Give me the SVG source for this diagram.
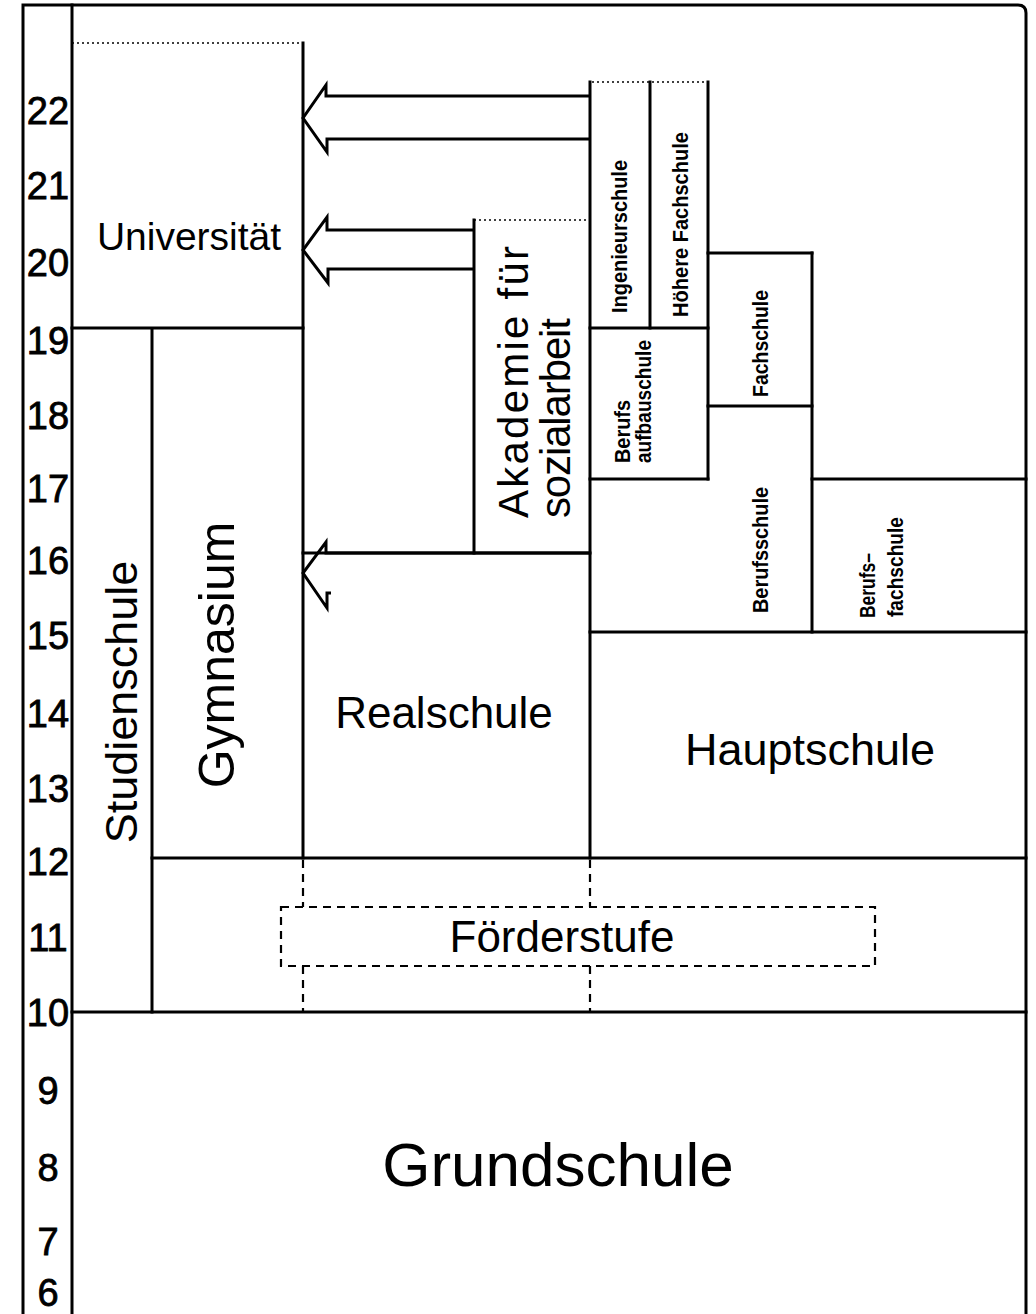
<svg xmlns="http://www.w3.org/2000/svg" width="1036" height="1314" viewBox="0 0 1036 1314">
<style>
.ln{stroke:#000;stroke-width:3;fill:none;stroke-linecap:square}
.dot{stroke:#000;stroke-width:1.6;fill:none;stroke-dasharray:2 3}
.dash{stroke:#000;stroke-width:2.2;fill:none;stroke-dasharray:8 6}
.arr{stroke:#000;stroke-width:3;fill:none;stroke-linejoin:miter}
.num{font-family:"Liberation Sans",Arial,sans-serif;font-size:38px;fill:#000;stroke:#000;stroke-width:0.8;text-anchor:middle}
.big{font-family:"Liberation Sans",Arial,sans-serif;fill:#000}
.sm{font-family:"Liberation Sans Narrow","Liberation Sans",Arial,sans-serif;font-weight:bold;font-size:22px;fill:#000}
</style>
<rect width="1036" height="1314" fill="#fff"/>
<g id="frame">
<path class="ln" d="M23,1314 V5 H1018 Q1026,5 1026,13 V1314"/>
<line class="ln" x1="72" y1="5" x2="72" y2="1314"/>
</g>
<g id="axis">
<text class="num" x="48" y="124">22</text>
<text class="num" x="48" y="199">21</text>
<text class="num" x="48" y="276">20</text>
<text class="num" x="48" y="354">19</text>
<text class="num" x="48" y="429">18</text>
<text class="num" x="48" y="502">17</text>
<text class="num" x="48" y="574">16</text>
<text class="num" x="48" y="649">15</text>
<text class="num" x="48" y="727">14</text>
<text class="num" x="48" y="802">13</text>
<text class="num" x="48" y="875">12</text>
<text class="num" x="48" y="951">11</text>
<text class="num" x="48" y="1026">10</text>
<text class="num" x="48" y="1104">9</text>
<text class="num" x="48" y="1181">8</text>
<text class="num" x="48" y="1255">7</text>
<text class="num" x="48" y="1306">6</text>
</g>
<g id="universitaet">
<line class="dot" x1="72" y1="43" x2="303" y2="43"/>
<line class="ln" x1="72" y1="328" x2="303" y2="328"/>
<text class="big" x="189" y="250" font-size="39" text-anchor="middle">Universität</text>
</g>
<g id="studienschule">
<line class="ln" x1="152" y1="330" x2="152" y2="1012"/>
<text class="big" transform="translate(137,702) rotate(-90)" font-size="45" text-anchor="middle">Studienschule</text>
</g>
<g id="gymnasium">
<line class="ln" x1="303" y1="43" x2="303" y2="858"/>
<text class="big" transform="translate(234,655) rotate(-90)" font-size="50" text-anchor="middle">Gymnasium</text>
</g>
<g id="realschule">
<line class="ln" x1="303" y1="553" x2="590" y2="553"/>
<text class="big" x="444" y="728" font-size="44" text-anchor="middle">Realschule</text>
</g>
<g id="akademie">
<line class="dot" x1="474" y1="220" x2="590" y2="220"/>
<line class="ln" x1="474" y1="220" x2="474" y2="553"/>
<text class="big" transform="translate(528,518) rotate(-90)" font-size="42" textLength="272">Akademie für</text>
<text class="big" transform="translate(570,518) rotate(-90)" font-size="42" textLength="200">sozialarbeit</text>
</g>
<g id="ingenieurschule">
<line class="dot" x1="592" y1="82" x2="708" y2="82"/>
<line class="ln" x1="590" y1="82" x2="590" y2="858"/>
<line class="ln" x1="650" y1="82" x2="650" y2="328"/>
<line class="ln" x1="590" y1="328" x2="708" y2="328"/>
<text class="sm" transform="translate(627,313) rotate(-90)" textLength="153" lengthAdjust="spacingAndGlyphs">Ingenieurschule</text>
</g>
<g id="hoehere-fachschule">
<line class="ln" x1="708" y1="82" x2="708" y2="479"/>
<text class="sm" transform="translate(688,317) rotate(-90)" textLength="185" lengthAdjust="spacingAndGlyphs">Höhere Fachschule</text>
</g>
<g id="fachschule">
<line class="ln" x1="708" y1="253" x2="812" y2="253"/>
<line class="ln" x1="812" y1="253" x2="812" y2="632"/>
<line class="ln" x1="708" y1="406" x2="812" y2="406"/>
<text class="sm" transform="translate(768,397) rotate(-90)" textLength="107" lengthAdjust="spacingAndGlyphs">Fachschule</text>
</g>
<g id="berufsaufbauschule">
<line class="ln" x1="590" y1="479" x2="708" y2="479"/>
<text class="sm" transform="translate(630,463) rotate(-90)" textLength="63" lengthAdjust="spacingAndGlyphs">Berufs</text>
<text class="sm" transform="translate(651,463) rotate(-90)" textLength="123" lengthAdjust="spacingAndGlyphs">aufbauschule</text>
</g>
<g id="berufsschule">
<line class="ln" x1="590" y1="632" x2="1026" y2="632"/>
<text class="sm" transform="translate(768,613) rotate(-90)" textLength="126" lengthAdjust="spacingAndGlyphs">Berufsschule</text>
</g>
<g id="berufsfachschule">
<line class="ln" x1="812" y1="479" x2="1026" y2="479"/>
<text class="sm" transform="translate(875,618) rotate(-90)" textLength="65" lengthAdjust="spacingAndGlyphs">Berufs–</text>
<text class="sm" transform="translate(903,617) rotate(-90)" textLength="100" lengthAdjust="spacingAndGlyphs">fachschule</text>
</g>
<g id="hauptschule">
<line class="ln" x1="152" y1="858" x2="1026" y2="858"/>
<text class="big" x="810" y="765" font-size="45" text-anchor="middle">Hauptschule</text>
</g>
<g id="foerderstufe">
<line class="dash" x1="303" y1="860" x2="303" y2="907"/>
<line class="dash" x1="303" y1="966" x2="303" y2="1012"/>
<line class="dash" x1="590" y1="860" x2="590" y2="907"/>
<line class="dash" x1="590" y1="966" x2="590" y2="1012"/>
<rect class="dash" x="281" y="907" width="594" height="59"/>
<text class="big" x="562" y="952" font-size="44" text-anchor="middle">Förderstufe</text>
</g>
<g id="grundschule">
<line class="ln" x1="72" y1="1012" x2="1026" y2="1012"/>
<text class="big" x="558" y="1186" font-size="62" text-anchor="middle">Grundschule</text>
</g>
<g id="connectors">
<polyline class="arr" points="590,96 326,96 326,85 303,118 327,152 327,139 590,139"/>
<polyline class="arr" points="474,230 327,230 327,217 303,250 328,283 328,269 474,269"/>
<polyline class="arr" points="590,553 326,553 326,542 303,573 327,608 327,593 331,593"/>
</g>
</svg>
